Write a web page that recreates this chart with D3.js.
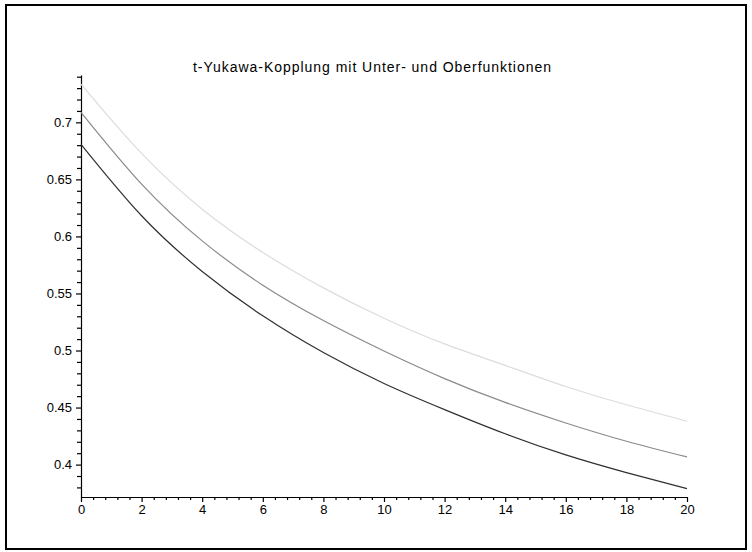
<!DOCTYPE html>
<html>
<head>
<meta charset="utf-8">
<script src="https://cdn.jsdelivr.net/npm/d3@7"></script>
<style>
  body { margin: 0; background: #fff; }
  text { font-family: "Liberation Sans", Arial, sans-serif; fill: #000; }
</style>
</head>
<body>
<div id="chart"></div>
<script>
var xs = [0, 2, 4, 6, 8, 10, 12, 14, 16, 18, 20];
// Oberfunktion (light), Mitte (gray), Unterfunktion (dark)
var upper = [0.7336, 0.6728, 0.6239, 0.5860, 0.5549, 0.5283, 0.5058, 0.4870, 0.4685, 0.4525, 0.4380];
var middle = [0.7088, 0.6459, 0.5961, 0.5573, 0.5263, 0.4996, 0.4754, 0.4545, 0.4365, 0.4205, 0.4067];
var lower = [0.6807, 0.6181, 0.5693, 0.5304, 0.4982, 0.4711, 0.4482, 0.4270, 0.4085, 0.3930, 0.3790];
var xTicks = [0, 2, 4, 6, 8, 10, 12, 14, 16, 18, 20];
var yTicks = [0.4, 0.45, 0.5, 0.55, 0.6, 0.65, 0.7];
var title = "t-Yukawa-Kopplung mit Unter- und Oberfunktionen";

var width = 752, height = 552;
var margin = {top: 75, right: 65, bottom: 55, left: 81};
var graphWidth = width - margin.left - margin.right;
var graphHeight = height - margin.top - margin.bottom;

var root = d3.select("#chart")
  .append("svg")
  .attr("width", width)
  .attr("height", height);

// outer frame
root.append("rect")
  .attr("x", 6).attr("y", 5)
  .attr("width", 740).attr("height", 544)
  .attr("fill", "none")
  .attr("stroke", "#000")
  .attr("stroke-width", 2);

// title is spread wider in the original
root.append("text")
  .attr("x", 372)
  .attr("y", 72)
  .attr("textLength", 358)
  .attr("lengthAdjust", "spacing")
  .style("text-anchor", "middle")
  .style("font-size", "14px")
  .text(title);

var svg = root.append("g")
  .attr("transform", "translate(" + margin.left + "," + margin.top + ")");

var x = d3.scaleLinear()
  .domain([0, 20])
  .range([0, graphWidth]);

var y = d3.scaleLinear()
  .domain([0.3716, 0.7415])
  .range([graphHeight, 0]);

// minor ticks
var xMinor = d3.range(0, 20.001, 0.4).filter(function(d) { return Math.abs(d / 2 - Math.round(d / 2)) > 1e-6; });
var yMinor = d3.range(0.38, 0.7401, 0.01).filter(function(d) { return Math.abs(d * 20 - Math.round(d * 20)) > 1e-6; });

svg.append("g")
  .attr("transform", "translate(0," + graphHeight + ")")
  .call(d3.axisBottom(x).tickValues(xMinor).tickSize(3).tickFormat(""))
  .call(function(g) { g.select(".domain").remove(); });

svg.append("g")
  .call(d3.axisLeft(y).tickValues(yMinor).tickSize(4).tickFormat(""))
  .call(function(g) { g.select(".domain").remove(); });

svg.append("g")
  .attr("class", "x axis")
  .attr("transform", "translate(0," + graphHeight + ")")
  .call(d3.axisBottom(x)
    .tickValues(xTicks)
    .tickSizeInner(5)
    .tickSizeOuter(0)
    .tickPadding(3)
    .tickFormat(d3.format("d")))
  .call(function(g) { g.selectAll("text").style("font-size", "13px"); });

svg.append("g")
  .attr("class", "y axis")
  .call(d3.axisLeft(y)
    .tickValues(yTicks)
    .tickSizeInner(5)
    .tickSizeOuter(0)
    .tickPadding(4)
    .tickFormat(function(d) { return String(+d.toFixed(2)); }))
  .call(function(g) { g.selectAll("text").style("font-size", "13px"); });

svg.selectAll(".tick line, .domain").attr("stroke", "#000").attr("stroke-width", 1.2);

var series = [
  {values: upper, color: "#dcdcdc"},
  {values: middle, color: "#8a8a8a"},
  {values: lower, color: "#303030"}
];

var line = d3.line()
  .curve(d3.curveNatural)
  .x(function(d, i) { return x(xs[i]); })
  .y(function(d) { return y(d); });

svg.selectAll(".curve")
  .data(series)
  .enter()
  .append("path")
  .attr("class", "curve")
  .attr("fill", "none")
  .attr("stroke", function(d) { return d.color; })
  .attr("stroke-width", 1.2)
  .attr("d", function(d) { return line(d.values); });
</script>
</body>
</html>
